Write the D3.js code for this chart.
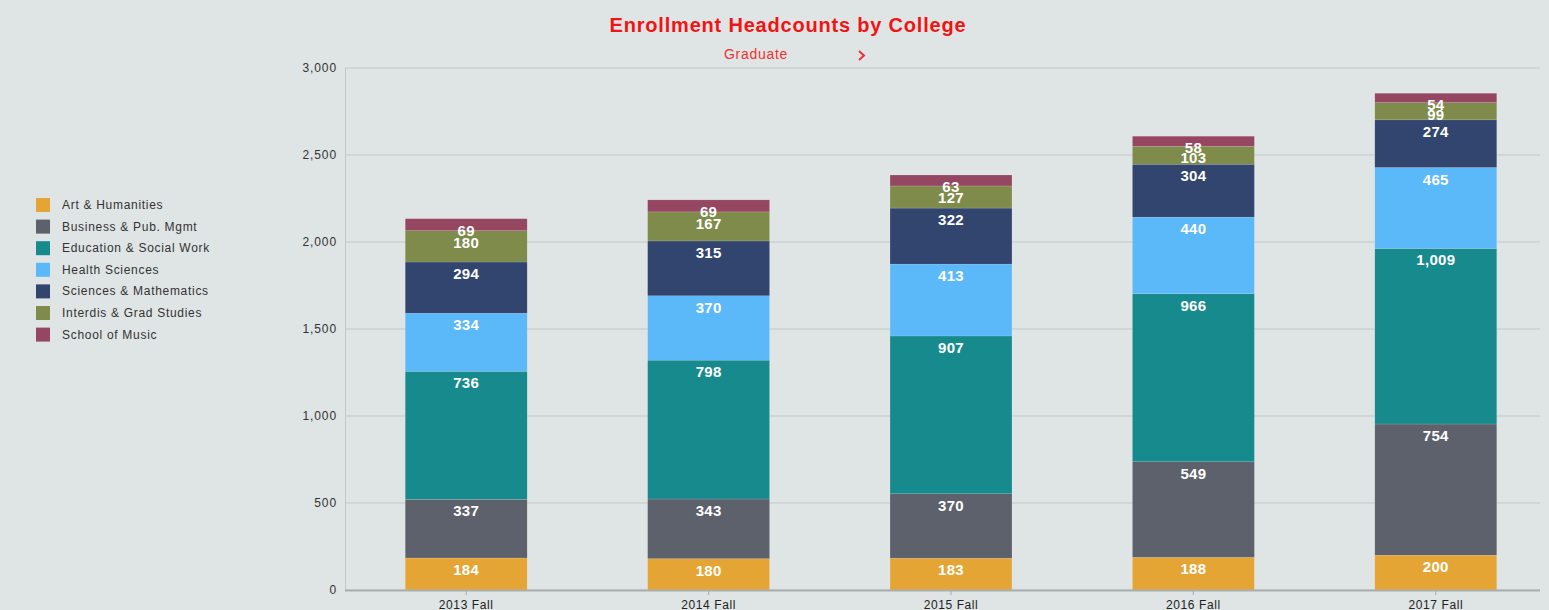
<!DOCTYPE html>
<html>
<head>
<meta charset="utf-8">
<script src="https://cdn.jsdelivr.net/npm/d3@7"></script>
<style>
  body { margin: 0; background: #dfe4e4; }
  svg { display: block; font-family: "Liberation Sans", Arial, sans-serif; }
</style>
</head>
<body>
<div id="chart"></div>
<script>
var years = ["2013 Fall", "2014 Fall", "2015 Fall", "2016 Fall", "2017 Fall"];
var colleges = ["Art & Humanities", "Business & Pub. Mgmt", "Education & Social Work",
    "Health Sciences", "Sciences & Mathematics", "Interdis & Grad Studies", "School of Music"];
var artHum = [184, 180, 183, 188, 200];
var busMgmt = [337, 343, 370, 549, 754];
var eduSoc = [736, 798, 907, 966, 1009];
var healthSci = [334, 370, 413, 440, 465];
var sciMath = [294, 315, 322, 304, 274];
var interdis = [180, 167, 127, 103, 99];
var music = [69, 69, 63, 58, 54];
var yTicks = [0, 500, 1000, 1500, 2000, 2500, 3000];

var colors = ["#e5a535", "#5d616b", "#178a8e", "#5bb8f9", "#32456f", "#7e8b4a", "#954762"];
var series = [artHum, busMgmt, eduSoc, healthSci, sciMath, interdis, music];

var W = 1549, H = 610;
var svg = d3.select("#chart").append("svg")
    .attr("width", W)
    .attr("height", H);

svg.append("rect").attr("width", W).attr("height", H).attr("fill", "#dfe4e4");

// title
svg.append("text")
    .attr("x", 788).attr("y", 32)
    .attr("text-anchor", "middle")
    .attr("fill", "#f01414")
    .attr("font-size", 20).attr("font-weight", "bold")
    .attr("letter-spacing", 0.8)
    .text("Enrollment Headcounts by College");
svg.append("text")
    .attr("x", 756).attr("y", 59)
    .attr("text-anchor", "middle")
    .attr("fill", "#f03030")
    .attr("font-size", 14)
    .attr("letter-spacing", 0.7)
    .text("Graduate");
svg.append("path")
    .attr("d", "M859,51 L864,55.5 L859,60")
    .attr("fill", "none").attr("stroke", "#f03030").attr("stroke-width", 2);

var x = d3.scaleBand().domain(years).range([345, 1557]).paddingInner(0.497).paddingOuter(0.2485);
var y = d3.scaleLinear().domain([0, 3000]).range([590, 68]);

// grid
svg.append("g").selectAll("line")
    .data(yTicks)
    .enter().append("line")
    .attr("x1", 345).attr("x2", 1540)
    .attr("y1", (d) => y(d)).attr("y2", (d) => y(d))
    .attr("stroke", "#c3c7c8").attr("stroke-width", 1);

svg.append("line")
    .attr("x1", 345.5).attr("x2", 345.5)
    .attr("y1", y(3000)).attr("y2", y(0))
    .attr("stroke", "#c3c7c8");

var yAxis = svg.append("g")
    .attr("transform", "translate(345,0)")
    .call(d3.axisLeft(y).tickValues(yTicks).tickSize(0).tickPadding(8).tickFormat(d3.format(",")));
yAxis.select(".domain").remove();
yAxis.selectAll("text").attr("font-size", 12).attr("fill", "#333")
    .attr("letter-spacing", 0.9)
    .attr("font-family", "Liberation Sans, Arial, sans-serif");

// stacked data
var table = years.map((yr, i) => {
    var row = { year: yr };
    colleges.forEach((c, j) => { row[c] = series[j][i]; });
    return row;
});
var stack = d3.stack().keys(colleges)(table);

var layers = svg.append("g").selectAll("g")
    .data(stack)
    .enter().append("g")
    .attr("fill", (d, i) => colors[i]);

layers.selectAll("rect")
    .data((d) => d)
    .enter().append("rect")
    .attr("x", (d) => x(d.data.year))
    .attr("width", x.bandwidth())
    .attr("y", (d) => y(d[1]))
    .attr("height", (d) => y(d[0]) - y(d[1]))
    .attr("stroke", "rgba(255,255,255,0.25)")
    .attr("stroke-width", 0.5);

layers.selectAll("text")
    .data((d) => d)
    .enter().append("text")
    .attr("x", (d) => x(d.data.year) + x.bandwidth() / 2)
    .attr("y", (d) => y(d[1]) + 17)
    .attr("text-anchor", "middle")
    .attr("fill", "#fff")
    .attr("font-size", 15).attr("font-weight", "bold")
    .attr("letter-spacing", 0.3)
    .text((d) => d3.format(",")(d[1] - d[0]));

// x axis
svg.append("line")
    .attr("x1", 345).attr("x2", 1540)
    .attr("y1", y(0) + 0.5).attr("y2", y(0) + 0.5)
    .attr("stroke", "#a9adae").attr("stroke-width", 2);

var xAxis = svg.append("g")
    .attr("transform", "translate(0," + (y(0) + 1) + ")")
    .call(d3.axisBottom(x).tickSize(4).tickPadding(5));
xAxis.select(".domain").remove();
xAxis.selectAll("line").attr("stroke", "#a9adae");
xAxis.selectAll("text").attr("font-size", 12).attr("fill", "#222")
    .attr("letter-spacing", 0.6)
    .attr("font-family", "Liberation Sans, Arial, sans-serif");

// legend
var legend = svg.append("g").selectAll("g")
    .data(colleges)
    .enter().append("g")
    .attr("transform", (d, i) => "translate(36," + (198 + i * 21.6) + ")");
legend.append("rect")
    .attr("width", 14).attr("height", 14)
    .attr("fill", (d, i) => colors[i]);
legend.append("text")
    .attr("x", 26).attr("y", 11)
    .attr("font-size", 12).attr("fill", "#333")
    .attr("letter-spacing", 0.7)
    .text((d) => d);
</script>
</body>
</html>
